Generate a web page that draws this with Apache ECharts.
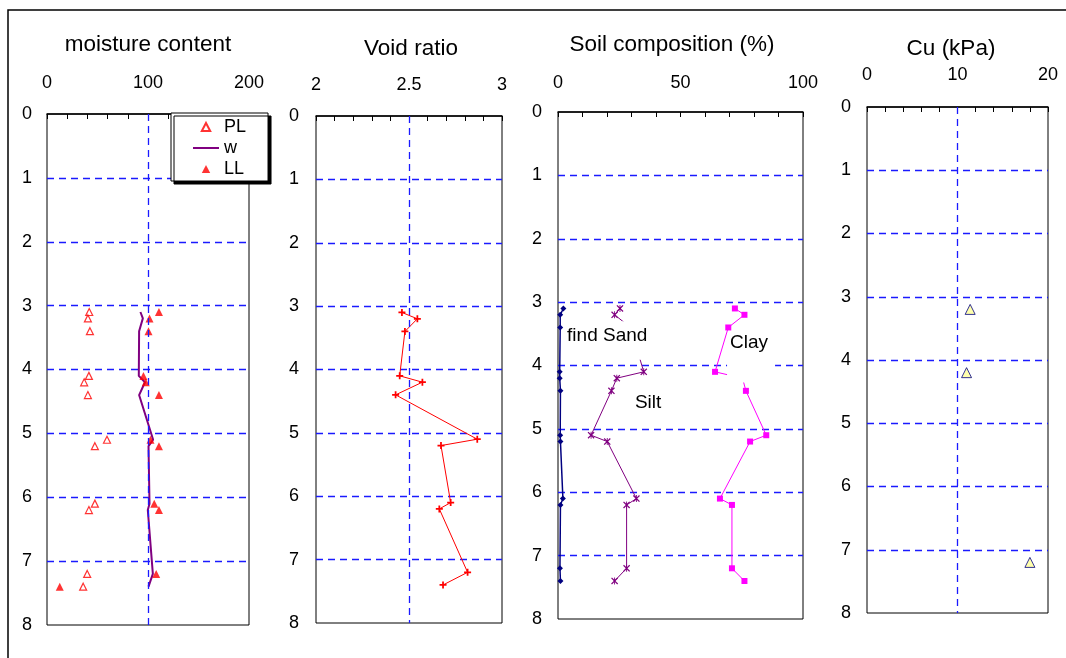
<!DOCTYPE html>
<html>
<head>
<meta charset="utf-8">
<script src="https://cdn.jsdelivr.net/npm/echarts@6/dist/echarts.min.js"></script>
<style>
    html, body { margin: 0; padding: 0; background: #fff; }
    #main { width: 1066px; height: 658px; }
</style>
</head>
<body>
<div id="main"></div>
<script>
// sample depths (m) shared by the soil tests
var depths = [3.1, 3.2, 3.4, 4.1, 4.2, 4.4, 5.1, 5.2, 6.1, 6.2, 7.2, 7.4];

// moisture content panel
var plasticLimit = [41.8, 40.5, 42.5, 41.5, 36.8, 40.5, 59.4, 47.4, 47.4, 41.5, 39.8, 35.8];
var waterContent = [92.5, 94.9, 91.2, 90.9, 97.0, 91.2, 105.1, 100.5, 101.5, 99.8, 104.8, 100.5];
var liquidLimit = [110.8, 101.5, 100.5, 95.5, 97.8, 110.8, 102.5, 110.8, 106.2, 110.8, 108.1, 12.6];

// void ratio panel
var voidRatio = [2.462, 2.545, 2.478, 2.45, 2.572, 2.428, 2.867, 2.672, 2.724, 2.663, 2.815, 2.683];

// soil composition panel (%)
var sand = [2.2, 0.9, 0.9, 0.7, 0.7, 1.0, 0.9, 1.0, 2.0, 1.0, 0.8, 1.0];
var silt = [25.3, 23.1, 29.6, 35.0, 24.0, 21.8, 13.5, 20.1, 32.0, 28.0, 28.0, 23.1];
var clay = [72.2, 76.1, 69.5, 64.1, 75.3, 76.7, 85.0, 78.4, 66.1, 71.0, 71.0, 76.1];

// undrained shear strength panel
var cuDepths = [3.2, 4.2, 7.2];
var cuValues = [11.4, 11.0, 18.0];

var titles = ['moisture content', 'Void ratio', 'Soil composition (%)', 'Cu (kPa)'];

var FONT = '"Liberation Sans", Arial, sans-serif';
var PLUS = 'path://M3,0H5V3H8V5H5V8H3V5H0V3H3Z';
var STAR = 'path://M0,1L1,0L4,3L7,0L8,1L5,4L8,7L7,8L4,5L1,8L0,7L3,4Z M3.5,0H4.5V8H3.5Z';

// legend icons padded to the 26x8 icon box so they keep their shape
var ICON_TRI = 'path://M0,0M26,8M13,0L17.2,8L8.8,8Z';
var ICON_LINE = 'path://M0,0M26,8M0,3H26V5H0Z';

function blueDash() {
    return { color: '#1a1aff', width: 1.3, type: [7, 5] };
}

function pairs(xs, ys) {
    return xs.map(function(x, i) { return [x, ys[i]]; });
}

// panel boxes in pixels
var grids = [
    { left: 47,  top: 114, width: 202, height: 511 },
    { left: 316, top: 116, width: 186, height: 507 },
    { left: 558, top: 112, width: 245, height: 507 },
    { left: 867, top: 107, width: 181, height: 506 }
];

function xAxis(idx, min, max, tick, labelStep, margin) {
    return {
        gridIndex: idx,
        type: 'value',
        position: 'top',
        min: min,
        max: max,
        interval: tick,
        axisLine: { show: true, onZero: false, lineStyle: { color: '#000', width: 1.5 } },
        axisTick: { show: true, inside: true, length: 5, lineStyle: { color: '#000', width: 1 } },
        axisLabel: {
            color: '#000',
            fontSize: 18,
            fontFamily: FONT,
            margin: margin,
            formatter: function(v) {
                var k = (v - min) / labelStep;
                if (Math.abs(k - Math.round(k)) > 1e-6) return '';
                return String(+v.toFixed(3));
            }
        },
        splitLine: { show: false }
    };
}

function yAxis(idx, margin) {
    return {
        gridIndex: idx,
        type: 'value',
        inverse: true,
        min: 0,
        max: 8,
        interval: 1,
        axisLine: { show: false },
        axisTick: { show: false },
        axisLabel: { color: '#000', fontSize: 18, fontFamily: FONT, margin: margin },
        splitLine: { show: true, showMinLine: false, showMaxLine: false, lineStyle: blueDash() }
    };
}

function midLine(x) {
    return {
        silent: true,
        symbol: 'none',
        label: { show: false },
        lineStyle: blueDash(),
        emphasis: { disabled: true },
        data: [{ xAxis: x }]
    };
}

var chart = echarts.init(document.getElementById('main'), null, { renderer: 'canvas' });

var titleCenters = [148, 411, 672, 951];
var titleTops = [33, 37, 33, 37];

var option = {
    animation: false,
    backgroundColor: '#fff',
    textStyle: { fontFamily: FONT },
    title: titles.map(function(t, i) {
        return {
            text: t,
            left: titleCenters[i],
            top: titleTops[i],
            textAlign: 'center',
            padding: 0,
            textStyle: { fontSize: 22.5, fontWeight: 'normal', color: '#000', fontFamily: FONT }
        };
    }),
    legend: {
        data: [
            { name: 'PL', icon: ICON_TRI },
            { name: 'w', icon: ICON_LINE },
            { name: 'LL', icon: ICON_TRI }
        ],
        orient: 'vertical',
        left: 171,
        top: 113,
        z: 10,
        padding: [5, 22, 3, 21],
        itemGap: 3,
        itemWidth: 26,
        itemHeight: 8,
        itemTextGap: 4,
        backgroundColor: '#fff',
        borderColor: '#000',
        borderWidth: 1,
        borderRadius: 0,
        shadowColor: '#000',
        shadowBlur: 0,
        shadowOffsetX: 3,
        shadowOffsetY: 3,
        textStyle: { fontSize: 18, color: '#000', fontFamily: FONT, lineHeight: 18 }
    },
    grid: grids.map(function(g) {
        return {
            left: g.left, top: g.top, width: g.width, height: g.height,
            show: true, borderColor: '#000', borderWidth: 1, backgroundColor: 'transparent'
        };
    }),
    xAxis: [
        xAxis(0, 0, 200, 20, 100, 22),
        xAxis(1, 2, 3, 0.1, 0.5, 22),
        xAxis(2, 0, 100, 10, 50, 20),
        xAxis(3, 0, 20, 2, 10, 23)
    ],
    yAxis: [yAxis(0, 15), yAxis(1, 17), yAxis(2, 16), yAxis(3, 16)],
    series: [
        {
            name: 'PL', type: 'scatter', xAxisIndex: 0, yAxisIndex: 0,
            symbol: 'triangle', symbolSize: 7,
            itemStyle: { color: '#fff', borderColor: '#ff0000', borderWidth: 1.2 },
            data: pairs(plasticLimit, depths),
            markLine: midLine(100)
        },
        {
            name: 'w', type: 'line', xAxisIndex: 0, yAxisIndex: 0,
            symbol: 'none',
            lineStyle: { color: '#800080', width: 2 },
            itemStyle: { color: '#800080' },
            data: pairs(waterContent, depths),
            z: 3
        },
        {
            name: 'LL', type: 'scatter', xAxisIndex: 0, yAxisIndex: 0,
            symbol: 'triangle', symbolSize: 8,
            itemStyle: { color: '#ff0000' },
            data: pairs(liquidLimit, depths),
            z: 4
        },
        {
            name: 'Void ratio', type: 'line', xAxisIndex: 1, yAxisIndex: 1,
            symbol: PLUS, symbolSize: 7, showSymbol: true,
            lineStyle: { color: '#ff0000', width: 1 },
            itemStyle: { color: '#ff0000' },
            data: pairs(voidRatio, depths),
            markLine: midLine(2.5)
        },
        {
            name: 'Sand', type: 'line', xAxisIndex: 2, yAxisIndex: 2,
            symbol: 'diamond', symbolSize: 6, showSymbol: true,
            lineStyle: { color: '#000080', width: 1.5 },
            itemStyle: { color: '#000080' },
            data: pairs(sand, depths)
        },
        {
            name: 'Silt', type: 'line', xAxisIndex: 2, yAxisIndex: 2,
            symbol: STAR, symbolSize: 7, showSymbol: true,
            lineStyle: { color: '#800080', width: 1 },
            itemStyle: { color: '#800080' },
            data: pairs(silt, depths)
        },
        {
            name: 'Clay', type: 'line', xAxisIndex: 2, yAxisIndex: 2,
            symbol: 'rect', symbolSize: 6, showSymbol: true,
            lineStyle: { color: '#ff00ff', width: 1 },
            itemStyle: { color: '#ff00ff' },
            data: pairs(clay, depths)
        },
        {
            name: 'Cu', type: 'scatter', xAxisIndex: 3, yAxisIndex: 3,
            symbol: 'triangle', symbolSize: 10,
            itemStyle: { color: '#ffff99', borderColor: '#000080', borderWidth: 1 },
            data: pairs(cuValues, cuDepths),
            markLine: midLine(10)
        }
    ]
};

chart.setOption(option);

// text boxes in the soil composition panel (data units: [percent, depth])
var notes = [
    { text: 'find Sand', at: [3.7, 3.53], box: [2.9, 3.30, 39.6, 3.91] },
    { text: 'Clay', at: [70.2, 3.64], box: [69.0, 3.49, 88.6, 4.27] },
    { text: 'Silt', at: [31.4, 4.59], box: null }
];

var graphics = [{
    type: 'rect',
    shape: { x: 8, y: 10, width: 1200, height: 800 },
    style: { fill: 'none', stroke: '#000', lineWidth: 1.5 },
    silent: true,
    z: 0
}];

notes.forEach(function(n) {
    if (n.box) {
        var p0 = chart.convertToPixel({ gridIndex: 2 }, [n.box[0], n.box[1]]);
        var p1 = chart.convertToPixel({ gridIndex: 2 }, [n.box[2], n.box[3]]);
        graphics.push({
            type: 'rect',
            shape: { x: p0[0], y: p0[1], width: p1[0] - p0[0], height: p1[1] - p0[1] },
            style: { fill: '#fff' },
            silent: true,
            z: 100
        });
    }
    var p = chart.convertToPixel({ gridIndex: 2 }, n.at);
    graphics.push({
        type: 'text',
        x: p[0],
        y: p[1],
        style: {
            text: n.text,
            fill: '#000',
            font: '19px ' + FONT,
            textAlign: 'left',
            textVerticalAlign: 'middle'
        },
        silent: true,
        z: 101
    });
});

chart.setOption({ graphic: graphics });

window.addEventListener('resize', function() {
    chart.resize();
});
</script>
</body>
</html>
